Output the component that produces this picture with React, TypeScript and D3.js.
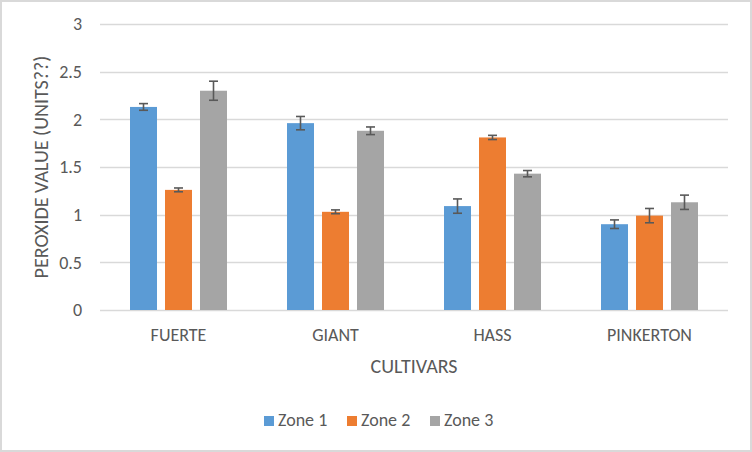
import { useEffect, useRef } from 'react';
import * as d3 from 'd3';

const cultivars = ['FUERTE', 'GIANT', 'HASS', 'PINKERTON'];
const zones = ['Zone 1', 'Zone 2', 'Zone 3'];
const zone1 = [2.13, 1.96, 1.09, 0.9];
const zone2 = [1.26, 1.03, 1.81, 0.99];
const zone3 = [2.3, 1.88, 1.43, 1.13];
const err1 = [0.035, 0.07, 0.075, 0.045];
const err2 = [0.02, 0.02, 0.022, 0.075];
const err3 = [0.1, 0.04, 0.033, 0.075];
const yTicks = [0, 0.5, 1, 1.5, 2, 2.5, 3];
const colors = ['#5b9bd5', '#ed7d31', '#a5a5a5'];

const WIDTH = 752;
const HEIGHT = 452;
const FONT = 'Carlito, Calibri, "Open Sans", sans-serif';
const TEXT = '#595959';

export default function App() {
  const svgRef = useRef<SVGSVGElement>(null);

  useEffect(() => {
    if (!svgRef.current) return;
    const svg = d3.select(svgRef.current);
    svg.selectAll('*').remove();

    const margin = { top: 24, right: 24, bottom: 142, left: 100 };
    const innerW = WIDTH - margin.left - margin.right;
    const innerH = HEIGHT - margin.top - margin.bottom;
    const groupW = 97;

    // background + chart border
    svg.append('rect')
      .attr('x', 1).attr('y', 1)
      .attr('width', WIDTH - 2).attr('height', HEIGHT - 2)
      .attr('fill', '#fff')
      .attr('stroke', '#d9d9d9')
      .attr('stroke-width', 2);

    const x0 = d3.scaleBand().domain(cultivars).range([0, innerW]);
    const x1 = d3.scaleBand().domain(zones).range([0, groupW]).paddingInner(8 / 35);
    const y = d3.scaleLinear().domain([0, 3]).range([innerH, 0]);

    const g = svg.append('g').attr('transform', `translate(${margin.left},${margin.top})`);

    // gridlines
    g.append('g')
      .selectAll('line')
      .data(yTicks)
      .enter().append('line')
      .attr('x1', 0).attr('x2', innerW)
      .attr('y1', d => Math.round(y(d)) + 0.5)
      .attr('y2', d => Math.round(y(d)) + 0.5)
      .attr('stroke', '#d9d9d9')
      .attr('stroke-width', 1.3);

    // y tick labels
    g.append('g')
      .selectAll('text')
      .data(yTicks)
      .enter().append('text')
      .attr('x', -18)
      .attr('y', d => y(d))
      .attr('dy', '0.35em')
      .attr('text-anchor', 'end')
      .attr('font-family', FONT)
      .attr('font-size', 18)
      .attr('fill', TEXT)
      .text(d => String(d));

    const series = [zone1, zone2, zone3];
    const errs = [err1, err2, err3];

    cultivars.forEach((c, ci) => {
      const grp = g.append('g')
        .attr('transform', `translate(${x0(c)! + (x0.bandwidth() - groupW) / 2},0)`);
      zones.forEach((z, zi) => {
        const v = series[zi][ci];
        const e = errs[zi][ci];
        const bx = x1(z)!;
        grp.append('rect')
          .attr('x', bx)
          .attr('y', y(v))
          .attr('width', x1.bandwidth())
          .attr('height', innerH - y(v))
          .attr('fill', colors[zi]);
        const cx = bx + x1.bandwidth() / 2;
        const eg = grp.append('g').attr('stroke', '#595959').attr('stroke-width', 1.6);
        eg.append('line').attr('x1', cx).attr('x2', cx).attr('y1', y(v + e)).attr('y2', y(v - e));
        eg.append('line').attr('x1', cx - 4.5).attr('x2', cx + 4.5).attr('y1', y(v + e)).attr('y2', y(v + e));
        eg.append('line').attr('x1', cx - 4.5).attr('x2', cx + 4.5).attr('y1', y(v - e)).attr('y2', y(v - e));
      });
    });

    // category labels
    g.append('g')
      .selectAll('text')
      .data(cultivars)
      .enter().append('text')
      .attr('x', d => x0(d)! + x0.bandwidth() / 2)
      .attr('y', 341 - margin.top)
      .attr('text-anchor', 'middle')
      .attr('font-family', FONT)
      .attr('font-size', 18)
      .attr('fill', TEXT)
      .text(d => d);

    // axis titles
    svg.append('text')
      .attr('x', margin.left + innerW / 2)
      .attr('y', 373)
      .attr('text-anchor', 'middle')
      .attr('font-family', FONT)
      .attr('font-size', 20)
      .attr('fill', TEXT)
      .text('CULTIVARS');

    svg.append('text')
      .attr('transform', `translate(48,${margin.top + innerH / 2}) rotate(-90)`)
      .attr('text-anchor', 'middle')
      .attr('font-family', FONT)
      .attr('font-size', 20)
      .attr('fill', TEXT)
      .text('PEROXIDE VALUE (UNITS??)');

    // legend
    const legendX = [264, 347, 430];
    const lg = svg.append('g');
    zones.forEach((z, i) => {
      lg.append('rect')
        .attr('x', legendX[i]).attr('y', 416)
        .attr('width', 10).attr('height', 10)
        .attr('fill', colors[i]);
      lg.append('text')
        .attr('x', legendX[i] + 14)
        .attr('y', 426)
        .attr('font-family', FONT)
        .attr('font-size', 18)
        .attr('fill', TEXT)
        .text(z);
    });
  }, []);

  return (
    <div style={{ position: 'absolute', left: 0, top: 0 }}>
      <svg ref={svgRef} width={WIDTH} height={HEIGHT} style={{ display: 'block' }} />
    </div>
  );
}
